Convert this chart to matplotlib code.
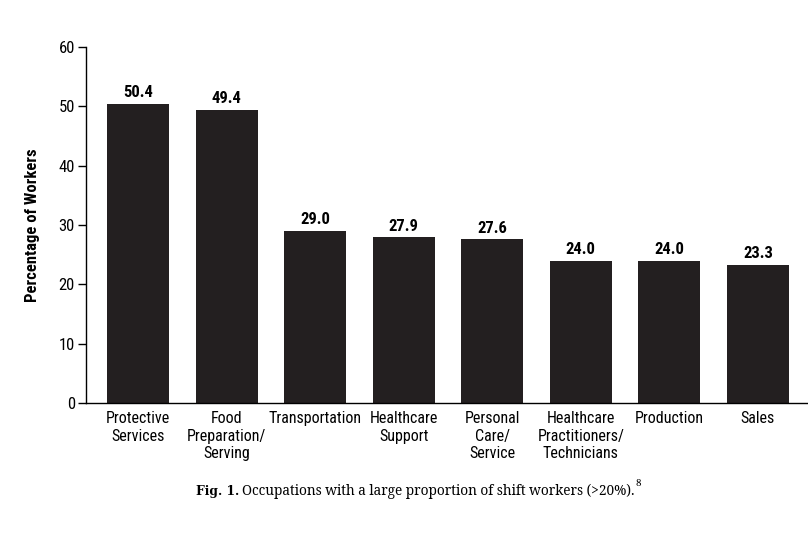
import matplotlib
matplotlib.use("Agg")
import matplotlib.pyplot as plt
import numpy as np

# data
categories = ["Protective\nServices", "Food\nPreparation/\nServing", "Transportation",
              "Healthcare\nSupport", "Personal\nCare/\nService",
              "Healthcare\nPractitioners/\nTechnicians", "Production", "Sales"]
percent = [50.4, 49.4, 29.0, 27.9, 27.6, 24.0, 24.0, 23.3]
y_ticks = [0, 10, 20, 30, 40, 50, 60]

plt.rcParams['font.family'] = ['Roboto Condensed', 'DejaVu Sans']

fig = plt.figure(figsize=(8.08, 5.39), dpi=100)
ax = fig.add_axes([0.1064, 0.2523, 0.893, 0.6605])

x = np.arange(len(categories))
ax.bar(x, percent, width=0.7, color='#231f20')

# value labels on top of bars
for xi, v in zip(x, percent):
    ax.text(xi, v + 0.6, f"{v:.1f}", ha='center', va='bottom',
            fontsize=12, fontweight='bold')

ax.set_xlim(-0.587, 7.56)
ax.set_ylim(0, 60)
ax.set_yticks(y_ticks)
ax.set_xticks(x)
ax.set_xticklabels(categories, fontsize=11.5, linespacing=1.2)
ax.tick_params(axis='x', length=0, pad=6)
ax.tick_params(axis='y', length=6, width=1, labelsize=12, pad=2)
ax.set_ylabel("Percentage of Workers", fontsize=12, fontweight='bold', labelpad=13)

for s in ['top', 'right']:
    ax.spines[s].set_visible(False)
for s in ['left', 'bottom']:
    ax.spines[s].set_linewidth(1)

# caption
cap_y = 0.089
fig.text(0.296, cap_y, "Fig. 1.", fontsize=8.8, family='DejaVu Serif', fontweight='bold',
         ha='right', va='center')
cap = fig.text(0.3, cap_y, "Occupations with a large proportion of shift workers (>20%).",
               fontsize=9.8, family='Noto Serif', ha='left', va='center')
fig.canvas.draw()
bb = cap.get_window_extent().transformed(fig.transFigure.inverted())
fig.text(bb.x1 + 0.001, cap_y + 0.014, "8", fontsize=7, family='Noto Serif',
         ha='left', va='center')

fig.savefig("out.png", dpi=100)
